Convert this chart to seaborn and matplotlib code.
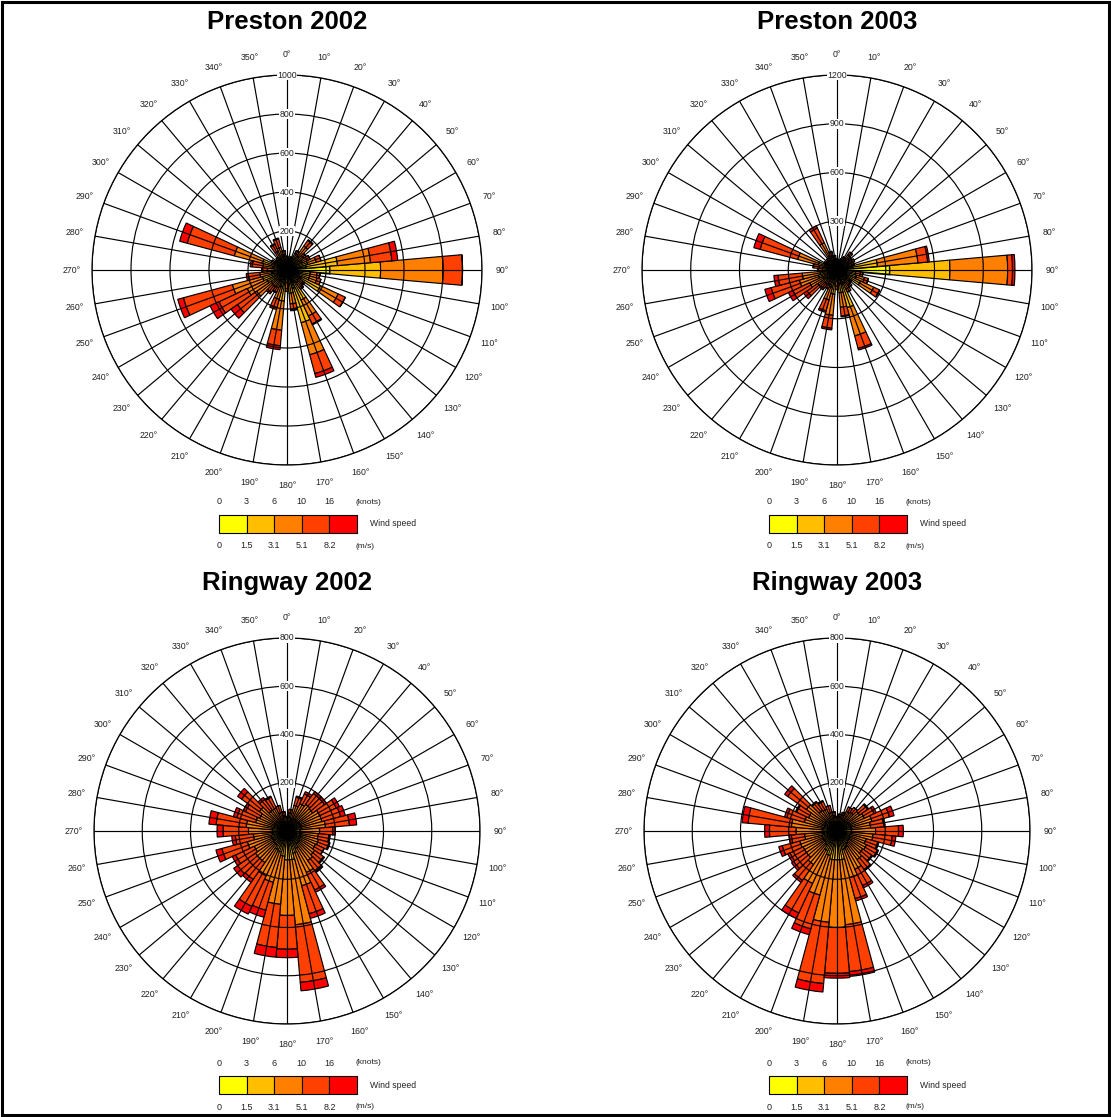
import numpy as np
import pandas as pd
import matplotlib
matplotlib.use("Agg")
import matplotlib.pyplot as plt
from matplotlib.patches import Rectangle
import seaborn as sns

# ---------------------------------------------------------------- data
directions = list(range(0, 360, 10))
knots_ticks = ["0", "3", "6", "10", "16"]
ms_ticks = ["0", "1.5", "3.1", "5.1", "8.2"]
class_names = ["0-3 kt", "3-6 kt", "6-10 kt", "10-16 kt", ">16 kt"]
class_colors = ["#FFFF00", "#FFBF00", "#FF8000", "#FF4000", "#FF0000"]

titles = ["Preston 2002", "Preston 2003", "Ringway 2002", "Ringway 2003"]
r_max = [1000, 1200, 800, 800]
r_step = [200, 300, 200, 200]

# counts per 10-degree sector, one list per wind-speed class
p02_lt3 = [25, 20, 25, 30, 40, 35, 40, 50, 100, 220, 60, 60, 80, 40, 40, 70, 100, 50,
           30, 60, 40, 30, 30, 40, 45, 50, 35, 30, 35, 50, 25, 20, 20, 30, 30, 25]
p02_3_6 = [20, 20, 20, 35, 50, 40, 45, 60, 160, 260, 60, 60, 110, 35, 40, 100, 180, 70,
           35, 100, 50, 35, 35, 60, 70, 80, 45, 35, 40, 80, 25, 20, 25, 35, 40, 30]
p02_6_10 = [15, 15, 15, 30, 60, 30, 30, 45, 170, 320, 35, 40, 100, 25, 30, 90, 170, 55,
            30, 150, 65, 35, 40, 90, 110, 160, 60, 35, 50, 150, 25, 20, 20, 40, 50, 25]
p02_10_16 = [10, 5, 10, 15, 35, 15, 15, 25, 110, 100, 15, 20, 40, 10, 10, 45, 100, 30,
             15, 80, 45, 25, 35, 120, 160, 260, 60, 25, 55, 250, 15, 10, 15, 40, 45, 20]
p02_gt16 = [0, 0, 0, 0, 5, 0, 0, 0, 30, 0, 0, 0, 0, 0, 0, 5, 20, 5,
            0, 20, 10, 5, 10, 40, 50, 30, 10, 5, 10, 40, 0, 0, 0, 5, 5, 0]

p03_lt3 = [25, 20, 25, 30, 35, 35, 40, 35, 100, 325, 60, 60, 70, 40, 40, 45, 90, 60,
           35, 60, 50, 30, 30, 35, 40, 50, 45, 30, 35, 50, 25, 20, 20, 40, 30, 25]
p03_3_6 = [20, 20, 20, 30, 40, 35, 40, 35, 150, 370, 55, 65, 90, 35, 40, 45, 150, 80,
           35, 90, 60, 35, 35, 45, 55, 70, 60, 30, 35, 70, 25, 20, 25, 55, 30, 25]
p03_6_10 = [15, 15, 15, 20, 40, 25, 25, 25, 250, 355, 30, 50, 90, 25, 35, 40, 180, 90,
            30, 130, 80, 35, 40, 65, 90, 120, 110, 30, 40, 130, 25, 25, 25, 90, 30, 20]
p03_10_16 = [10, 5, 10, 10, 20, 15, 15, 15, 60, 30, 15, 25, 40, 10, 15, 20, 80, 55,
             20, 80, 70, 25, 35, 80, 115, 180, 150, 25, 35, 240, 15, 15, 20, 100, 25, 20]
p03_gt16 = [0, 0, 0, 0, 0, 0, 0, 0, 10, 15, 0, 0, 0, 0, 0, 0, 10, 5,
            0, 10, 10, 5, 10, 25, 30, 40, 25, 5, 5, 40, 0, 0, 0, 15, 5, 0]

r02_lt3 = [15, 15, 20, 20, 20, 20, 20, 20, 20, 20, 20, 25, 25, 25, 25, 30, 35, 40,
           40, 35, 30, 30, 25, 25, 25, 25, 20, 20, 20, 20, 20, 20, 15, 15, 15, 15]
r02_3_6 = [20, 25, 30, 35, 35, 35, 40, 40, 40, 35, 35, 35, 35, 40, 40, 50, 60, 80,
           80, 70, 60, 55, 45, 45, 40, 45, 40, 40, 40, 35, 35, 35, 30, 30, 25, 20]
r02_6_10 = [20, 35, 60, 70, 80, 75, 90, 90, 100, 80, 75, 75, 70, 75, 85, 110, 140, 270,
            230, 200, 130, 120, 90, 90, 85, 100, 80, 100, 110, 80, 70, 85, 60, 60, 40, 30]
r02_10_16 = [5, 15, 35, 45, 55, 60, 75, 80, 100, 55, 45, 45, 40, 45, 55, 80, 120, 240,
             140, 180, 120, 140, 85, 90, 85, 110, 75, 105, 125, 80, 65, 90, 55, 50, 30, 15]
r02_gt16 = [0, 0, 5, 10, 10, 10, 15, 20, 30, 10, 5, 5, 0, 5, 5, 10, 20, 35,
            35, 40, 30, 35, 15, 20, 15, 25, 15, 25, 30, 15, 10, 20, 10, 5, 0, 0]

r03_lt3 = [15, 15, 15, 20, 20, 20, 20, 20, 20, 20, 20, 20, 25, 25, 25, 30, 30, 40,
           40, 40, 35, 30, 25, 25, 25, 25, 20, 20, 20, 20, 20, 20, 15, 15, 15, 15]
r03_3_6 = [20, 20, 25, 30, 30, 35, 35, 40, 40, 40, 40, 35, 35, 35, 40, 45, 50, 80,
           80, 80, 70, 60, 45, 40, 40, 40, 35, 40, 40, 35, 35, 40, 30, 30, 25, 20]
r03_6_10 = [20, 25, 30, 40, 45, 60, 70, 90, 80, 100, 90, 70, 75, 70, 80, 100, 120, 270,
            280, 260, 170, 150, 100, 90, 90, 95, 80, 110, 130, 85, 75, 95, 60, 55, 40, 30]
r03_10_16 = [5, 10, 10, 20, 25, 40, 45, 75, 55, 95, 80, 50, 50, 45, 50, 75, 90, 195,
             190, 255, 145, 135, 80, 65, 60, 75, 55, 110, 180, 75, 55, 95, 40, 35, 30, 15]
r03_gt16 = [0, 0, 0, 0, 0, 5, 10, 20, 5, 20, 15, 5, 5, 5, 5, 10, 10, 20,
            20, 35, 25, 25, 10, 10, 10, 15, 10, 20, 25, 10, 5, 15, 5, 5, 0, 0]

roses = [
    [p02_lt3, p02_3_6, p02_6_10, p02_10_16, p02_gt16],
    [p03_lt3, p03_3_6, p03_6_10, p03_10_16, p03_gt16],
    [r02_lt3, r02_3_6, r02_6_10, r02_10_16, r02_gt16],
    [r03_lt3, r03_3_6, r03_6_10, r03_10_16, r03_gt16],
]

# long table: station/year, direction, speed class, count
records = []
for title, classes in zip(titles, roses):
    for name, values in zip(class_names, classes):
        for d, v in zip(directions, values):
            records.append((title, d, name, v))
wind = pd.DataFrame(records, columns=["site", "direction", "speed", "count"])

# ---------------------------------------------------------------- style
sns.set_theme(style="white")
plt.rcParams["font.family"] = ["Liberation Sans", "DejaVu Sans"]
palette = sns.color_palette(class_colors)

W, H = 1111, 1117
fig = plt.figure(figsize=(W / 100, H / 100), dpi=100)
fig.patch.set_facecolor("white")

centres = [(287, 270), (837, 270), (287, 831), (837, 831)]
radii = [195, 195, 193, 193]
title_y = [22, 22, 583, 583]
legend_dy = [0, 0, 561, 561]
legend_dx = [0, 550, 0, 550]

for i, title in enumerate(titles):
    cx, cy = centres[i]
    rad = radii[i]
    ax = fig.add_axes([(cx - rad) / W, 1 - (cy + rad) / H, 2 * rad / W, 2 * rad / H],
                      projection="polar")
    ax.set_theta_zero_location("N")
    ax.set_theta_direction(-1)
    ax.set_facecolor("white")

    site = wind[wind["site"] == title]
    bottom = np.zeros(len(directions))
    theta = np.deg2rad(directions)
    for k, name in enumerate(class_names):
        vals = (site[site["speed"] == name].sort_values("direction")["count"]
                .to_numpy(dtype=float))
        ax.bar(theta, vals, width=np.deg2rad(10), bottom=bottom,
               color=palette[k], edgecolor="black",
               linewidth=1.3 if k == 0 else 0.85, zorder=1)
        bottom += vals

    rticks = list(range(r_step[i], r_max[i] + 1, r_step[i]))
    ax.set_ylim(0, r_max[i])
    ax.set_yticks(rticks)
    ax.set_yticklabels([])
    ax.set_xticks(np.deg2rad(directions))
    ax.set_xticklabels([])
    ax.grid(True, color="black", linewidth=0.85)
    # grid is drawn over the bars
    for gl in ax.xaxis.get_gridlines() + ax.yaxis.get_gridlines():
        gl.set_zorder(3)
    ax.xaxis.set_zorder(3)
    ax.yaxis.set_zorder(3)
    ax.spines["polar"].set_color("black")
    ax.spines["polar"].set_linewidth(0.9)

    for d in directions:
        ax.text(np.deg2rad(d), r_max[i] * 1.105, f"{d}°", ha="center", va="center",
                fontsize=6.3, color="#222222")
    for r in rticks:
        ax.text(0, r, str(r), ha="center", va="center", fontsize=6.3, color="#222222",
                zorder=6, bbox=dict(facecolor="white", edgecolor="none", pad=0.4))

    fig.text(cx / W, 1 - title_y[i] / H, title, ha="center", va="center",
             fontsize=18.5, fontweight="bold", color="black")

# ---------------------------------------------------------------- legends & frame
over = fig.add_axes([0, 0, 1, 1], zorder=-1)
over.set_xlim(0, W)
over.set_ylim(H, 0)
over.axis("off")

box_w = 27.6
for i in range(4):
    x0 = 219 + legend_dx[i]
    y0 = 515 + legend_dy[i]
    for k in range(5):
        over.add_patch(Rectangle((x0 + k * box_w, y0), box_w, 18,
                                 facecolor=palette[k], edgecolor="black", linewidth=0.8))
        over.text(x0 + k * box_w, y0 - 13, knots_ticks[k], ha="center", va="center",
                  fontsize=6.5, color="#222222")
        over.text(x0 + k * box_w, y0 + 31, ms_ticks[k], ha="center", va="center",
                  fontsize=6.5, color="#222222")
    over.text(x0 + 136, y0 - 13, "(knots)", ha="left", va="center", fontsize=6,
              color="#222222")
    over.text(x0 + 136, y0 + 31, "(m/s)", ha="left", va="center", fontsize=6,
              color="#222222")
    over.text(x0 + 151, y0 + 9, "Wind speed", ha="left", va="center", fontsize=6.2,
              color="#222222")

over.add_patch(Rectangle((2, 2), W - 4, H - 4, fill=False, edgecolor="black",
                         linewidth=2.2))

fig.savefig("out.png", dpi=100, facecolor="white")
